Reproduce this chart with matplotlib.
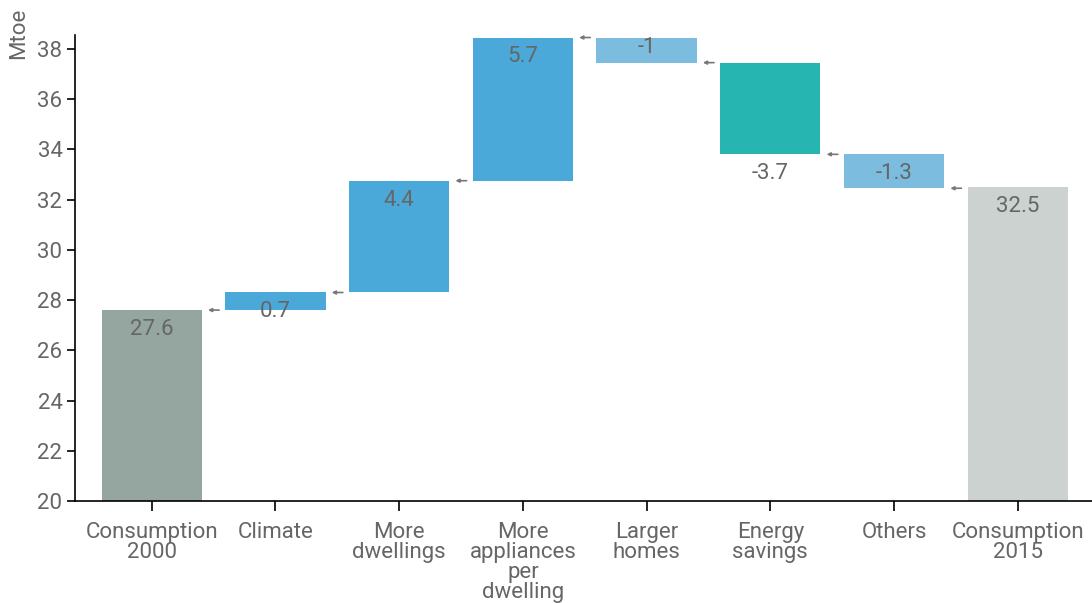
import matplotlib.pyplot as plt

plt.rcParams["font.family"] = ["Roboto", "DejaVu Sans"]

categories = [
    "Consumption\n2000",
    "Climate",
    "More\ndwellings",
    "More\nappliances\nper\ndwelling",
    "Larger\nhomes",
    "Energy\nsavings",
    "Others",
    "Consumption\n2015",
]
# first value is the start total, then the effects, last bar is the end total
start_total = 27.6
effects = [0.7, 4.45, 5.7, -1.0, -3.65, -1.35]
end_total = 32.5
value_labels = ["27.6", "0.7", "4.4", "5.7", "-1", "-3.7", "-1.3", "32.5"]

colors = ["#95a59f", "#4aa9d8", "#4aa9d8", "#4aa9d8", "#7bbcdf", "#26b5b1", "#7bbcdf", "#cbd2d0"]
# where the value label goes relative to the bar end
label_place = ["in", "in", "in", "in", "out", "in", "out", "in"]

text_grey = "#666666"
fs = 16

fig = plt.figure(figsize=(10.92, 6.03), dpi=100)
ax = fig.add_axes([75 / 1092, 1 - 501 / 603, 1017 / 1092, (501 - 35) / 603])

bottoms = []
heights = []
ends = []
bottoms.append(20)
heights.append(start_total - 20)
ends.append(start_total)
level = start_total
for e in effects:
    bottoms.append(level)
    heights.append(e)
    level = level + e
    ends.append(level)
bottoms.append(20)
heights.append(end_total - 20)
ends.append(end_total)

x = list(range(len(categories)))
ax.bar(x, heights, bottom=bottoms, width=0.81, color=colors, zorder=2)

# value labels
for i in x:
    end = ends[i]
    if label_place[i] == "in":
        y = end - 0.77
    else:
        y = end + 0.6
    ax.text(i, y, value_labels[i], ha="center", va="center", fontsize=fs, color=text_grey)

# small connector arrows between bars
for i in range(len(x) - 1):
    lvl = ends[i]
    ax.annotate("", xy=(i + 0.5 - 0.045, lvl), xytext=(i + 0.5 + 0.045, lvl),
                arrowprops=dict(arrowstyle="-|>", color="#777777", lw=1.2,
                                mutation_scale=5, shrinkA=0, shrinkB=0))

ax.set_xlim(-0.62, 7.6)
ax.set_ylim(20, 38.55)
ax.set_yticks([20, 22, 24, 26, 28, 30, 32, 34, 36, 38])
ax.set_xticks(x)
ax.set_xticklabels(categories, fontsize=fs, color=text_grey, linespacing=0.95)
ax.tick_params(axis="y", labelsize=fs, labelcolor=text_grey, length=6, width=1.2, pad=3)
ax.tick_params(axis="x", length=7, width=1.2, pad=8)

for side in ["top", "right"]:
    ax.spines[side].set_visible(False)
ax.spines["left"].set_linewidth(1.2)
ax.spines["bottom"].set_linewidth(1.2)

fig.text(19 / 1092, 1 - 33 / 603, "Mtoe", rotation=90, ha="center", va="center",
         fontsize=fs, color=text_grey)

fig.savefig("out.png", dpi=100)
